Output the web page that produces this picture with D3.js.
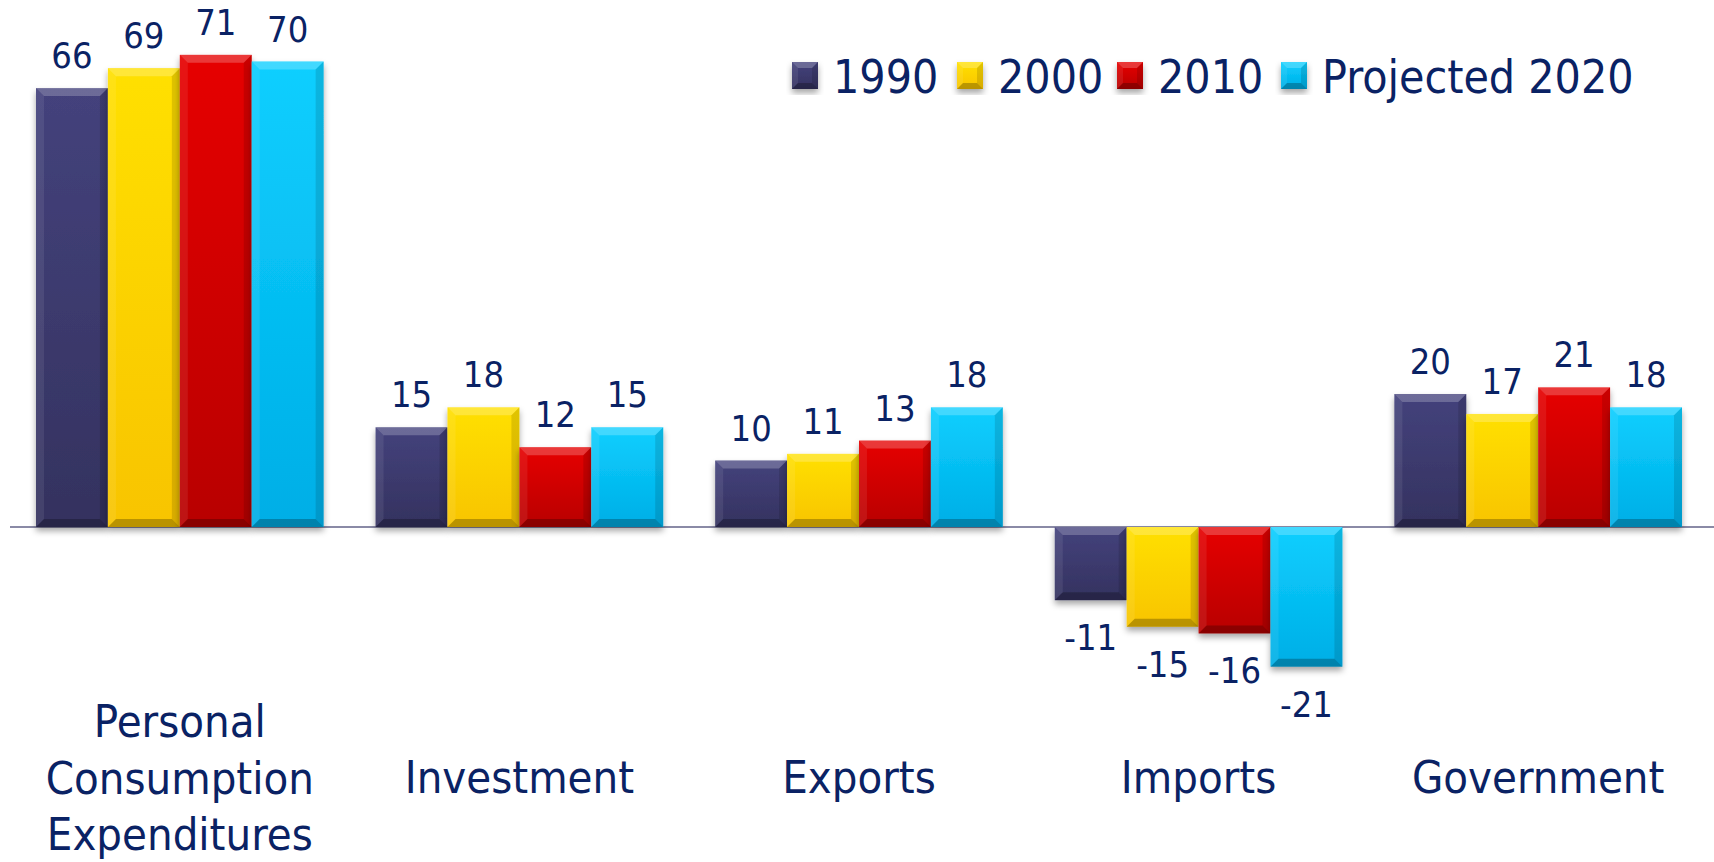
<!DOCTYPE html>
<html>
<head>
<meta charset="utf-8">
<script src="https://cdn.jsdelivr.net/npm/d3@7"></script>
<style>
  html, body { margin: 0; padding: 0; background: #fff; }
  svg { display: block; }
  text { font-family: "DejaVu Sans Condensed", "DejaVu Sans", sans-serif; fill: #0a2264; }
</style>
</head>
<body>
<svg id="chart"></svg>
<script>
const width = 1714;
const height = 862;

const categories = ['Personal Consumption Expenditures', 'Investment', 'Exports', 'Imports', 'Government'];
const categoryLines = [['Personal', 'Consumption', 'Expenditures'], ['Investment'], ['Exports'], ['Imports'], ['Government']];
const seriesNames = ['1990', '2000', '2010', 'Projected 2020'];
const values1990 = [66, 15, 10, -11, 20];
const values2000 = [69, 18, 11, -15, 17];
const values2010 = [71, 12, 13, -16, 21];
const values2020 = [70, 15, 18, -21, 18];
const seriesValues = [values1990, values2000, values2010, values2020];

const colorTop = ['#44427c', '#ffe000', '#e60404', '#0ccfff'];
const colorBottom = ['#34325f', '#f8c400', '#b80000', '#00aee6'];

const svg = d3.select('#chart').attr('width', width).attr('height', height);
const defs = svg.append('defs');

const shadow = defs.append('filter').attr('id', 'shadow')
  .attr('x', '-20%').attr('y', '-20%').attr('width', '140%').attr('height', '140%');
shadow.append('feDropShadow').attr('dx', 0).attr('dy', 4).attr('stdDeviation', 3)
  .attr('flood-color', '#000').attr('flood-opacity', 0.35);

seriesNames.forEach((s, i) => {
  const g = defs.append('linearGradient').attr('id', 'grad' + i)
    .attr('x1', 0).attr('y1', 0).attr('x2', 0).attr('y2', 1);
  g.append('stop').attr('offset', '0%').attr('stop-color', colorTop[i]);
  g.append('stop').attr('offset', '100%').attr('stop-color', colorBottom[i]);
});

const x0 = d3.scaleBand().domain(categories).range([36, 1682]).paddingInner(0.153).paddingOuter(0);
const x1 = d3.scaleBand().domain(seriesNames).range([0, x0.bandwidth()]);
const y = d3.scaleLinear().domain([-25, 75]).range([527 + 25 * 6.65, 527 - 75 * 6.65]);

// baseline
svg.append('line')
  .attr('x1', 10).attr('x2', width)
  .attr('y1', y(0)).attr('y2', y(0))
  .attr('stroke', '#8a8aa6').attr('stroke-width', 2);

// bevelled box helper
function bevelBox(g, x, yTop, w, h, i, b) {
  g.append('rect')
    .attr('x', x).attr('y', yTop).attr('width', w).attr('height', h)
    .attr('fill', `url(#grad${i})`)
    .attr('filter', 'url(#shadow)');
  const bb = Math.min(b, h / 2, w / 2);
  const faces = [
    { pts: [[x, yTop], [x + w, yTop], [x + w - bb, yTop + bb], [x + bb, yTop + bb]], fill: '#fff', op: 0.22 },
    { pts: [[x, yTop], [x + bb, yTop + bb], [x + bb, yTop + h - bb], [x, yTop + h]], fill: '#fff', op: 0.08 },
    { pts: [[x + w, yTop], [x + w, yTop + h], [x + w - bb, yTop + h - bb], [x + w - bb, yTop + bb]], fill: '#000', op: 0.12 },
    { pts: [[x, yTop + h], [x + bb, yTop + h - bb], [x + w - bb, yTop + h - bb], [x + w, yTop + h]], fill: '#000', op: 0.25 },
  ];
  faces.forEach((f) => {
    g.append('polygon')
      .attr('points', f.pts.map((p) => p.join(',')).join(' '))
      .attr('fill', f.fill).attr('fill-opacity', f.op);
  });
}

const groups = svg.selectAll('g.cat').data(categories).enter().append('g')
  .attr('class', 'cat')
  .attr('transform', (d) => `translate(${x0(d)},0)`);

groups.each(function (cat, ci) {
  const g = d3.select(this);
  seriesNames.forEach((s, si) => {
    const v = seriesValues[si][ci];
    const top = y(Math.max(0, v));
    const h = Math.abs(y(v) - y(0));
    bevelBox(g, x1(s), top, x1.bandwidth(), h, si, 8);
    g.append('text')
      .attr('x', x1(s) + x1.bandwidth() / 2)
      .attr('y', v >= 0 ? y(v) - 20 : y(v) + 50)
      .attr('text-anchor', 'middle')
      .style('font-size', '36px')
      .text(v);
  });
});

// category labels
groups.each(function (cat, ci) {
  const lines = categoryLines[ci];
  const t = d3.select(this).append('text')
    .attr('text-anchor', 'middle')
    .style('font-size', '45px');
  const start = lines.length === 1 ? 793 : 737;
  lines.forEach((ln, li) => {
    t.append('tspan')
      .attr('x', x0.bandwidth() / 2)
      .attr('y', start + li * 56.5)
      .text(ln);
  });
});

// legend
const legendX = [792, 957, 1117, 1281];
const legend = svg.selectAll('g.legend').data(seriesNames).enter().append('g')
  .attr('class', 'legend')
  .attr('transform', (d, i) => `translate(${legendX[i]},62)`);

legend.each(function (s, i) {
  const g = d3.select(this);
  bevelBox(g, 0, 0, 26, 27, i, 6);
  g.append('text')
    .attr('x', 41)
    .attr('y', 31)
    .style('font-size', '46px')
    .text(s);
});
</script>
</body>
</html>
